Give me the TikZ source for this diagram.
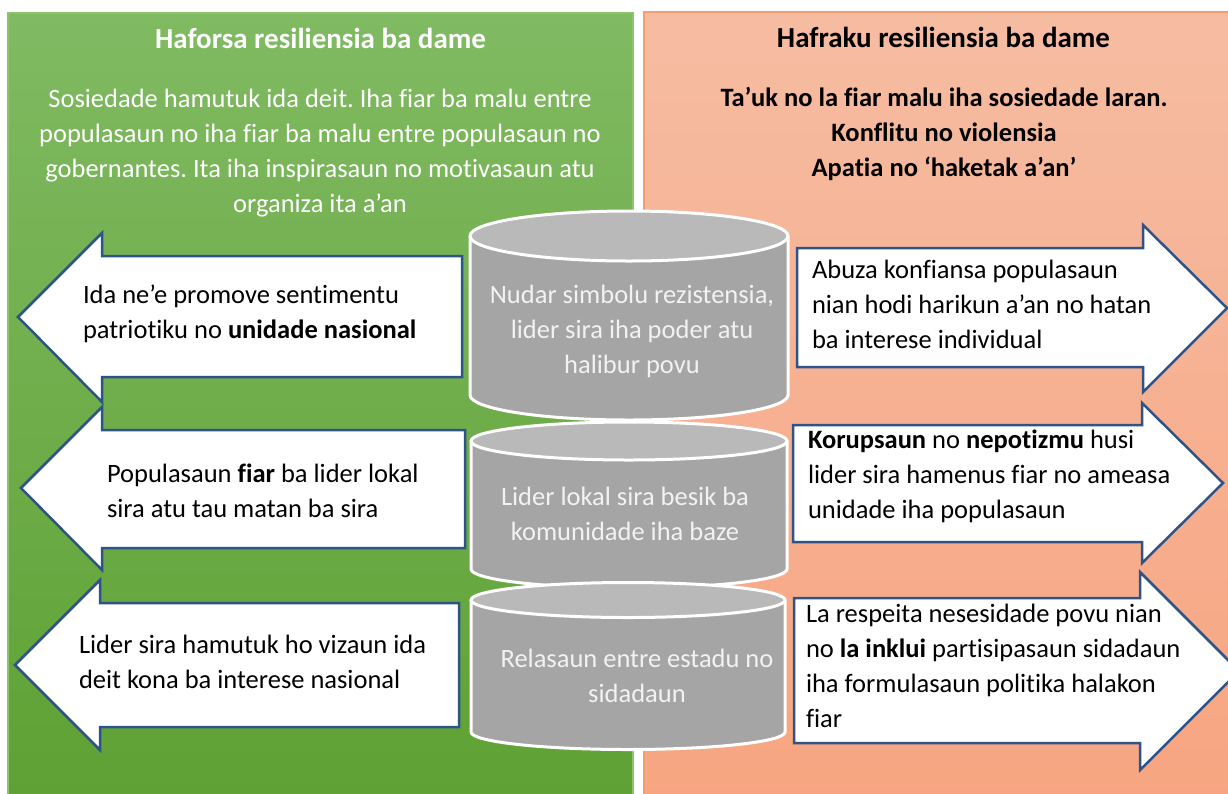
\documentclass[tikz,border=0pt]{standalone}
\usepackage{fontspec}
\setmainfont{Carlito}[Ligatures={TeX,NoCommon}]
\frenchspacing
\definecolor{greentop}{RGB}{128,186,98}
\definecolor{greenbot}{RGB}{95,161,52}
\definecolor{greenedge}{RGB}{140,195,110}
\definecolor{orangetop}{RGB}{246,188,162}
\definecolor{orangebot}{RGB}{247,165,129}
\definecolor{orangeedge}{RGB}{243,158,112}
\definecolor{arrowblue}{RGB}{46,84,135}
\definecolor{cylbody}{RGB}{165,165,165}
\definecolor{cyltop}{RGB}{185,185,185}
\definecolor{cyltext}{RGB}{242,242,242}
\newcommand\drawcyl[5]{%
  \fill[cylbody] (#1-#2,#3) -- (#1-#2,#4) arc[start angle=180,end angle=0,x radius=#2,y radius=#5] -- (#1+#2,#3) -- cycle;
  \fill[cyltop] (#1,#3) ellipse[x radius=#2,y radius=#5];
  \draw[cyledge] (#1-#2,#3) -- (#1-#2,#4) arc[start angle=180,end angle=0,x radius=#2,y radius=#5] -- (#1+#2,#3);
  \draw[cyledge] (#1,#3) ellipse[x radius=#2,y radius=#5];
}
\begin{document}
\begin{tikzpicture}[x=1pt,y=-1pt,
  bodytext/.style={font=\fontsize{26.5}{35}\selectfont, inner sep=0pt, outer sep=0pt},
  titletext/.style={font=\fontsize{29}{35}\selectfont\bfseries, inner sep=0pt, outer sep=0pt},
  arrowbox/.style={fill=white, draw=arrowblue, line width=2.5pt, line join=miter},
  cyledge/.style={draw=white, line width=3pt},
  leftblock/.style={bodytext, anchor=base west, align=left},
  centerblock/.style={bodytext, anchor=base, align=center}]
\useasboundingbox (0,0) rectangle (1228,793);
\clip (0,0) rectangle (1228,793);
\fill[white] (0,0) rectangle (1228,793);
% panels
\shade[top color=greentop, bottom color=greenbot] (8,13) rectangle (633,800);
\draw[greenedge, line width=1.2pt] (8,800) -- (8,13) -- (633,13) -- (633,800);
\shade[top color=orangetop, bottom color=orangebot] (644,12) rectangle (1240,800);
\draw[orangeedge, line width=1.5pt] (644,800) -- (644,12) -- (1240,12);
% titles
\node[titletext, text=white, anchor=base] (ttlL) at (320.5,48) {Haforsa resiliensia ba dame};
\node[titletext, text=black, anchor=base] (ttlR) at (943.5,47) {Hafraku resiliensia ba dame};
% paragraphs (anchor = baseline of the last line)
\node[centerblock, text=white] (parL) at (320,212) {Sosiedade hamutuk ida deit. Iha fiar ba malu entre\\populasaun no iha fiar ba malu entre populasaun no\\gobernantes. Ita iha inspirasaun no motivasaun atu\\organiza ita a’an};
\node[centerblock, text=black, font=\fontsize{26.5}{35}\selectfont\bfseries] (parR) at (944,176) {Ta’uk no la fiar malu iha sosiedade laran.\\Konflitu no violensia\\Apatia no ‘haketak a’an’};
% left arrows
\draw[arrowbox] (18,317) -- (102,233) -- (102,256) -- (462,256) -- (462,377) -- (102,377) -- (102,402) -- cycle;
\draw[arrowbox] (21,488) -- (102,407) -- (102,430) -- (465,430) -- (465,548) -- (102,548) -- (102,570) -- cycle;
\draw[arrowbox] (15,665) -- (100,580) -- (100,603) -- (459,603) -- (459,727) -- (100,727) -- (100,750) -- cycle;
% right arrows
\draw[arrowbox] (797,248) -- (1143,248) -- (1143,225) -- (1227,308) -- (1143,392) -- (1143,367) -- (797,367) -- cycle;
\draw[arrowbox] (793,425) -- (1142,425) -- (1142,403) -- (1223,483) -- (1142,563) -- (1142,542) -- (793,542) -- cycle;
\draw[arrowbox] (794,598) -- (1140,598) -- (1140,572) -- (1239,671) -- (1140,770) -- (1140,743) -- (794,743) -- cycle;
% arrow texts
\node[leftblock] (l1) at (83,338) {Ida ne’e promove sentimentu\\patriotiku no \textbf{unidade nasional}};
\node[leftblock] (l2) at (107,517) {Populasaun \textbf{fiar} ba lider lokal\\sira atu tau matan ba sira};
\node[leftblock] (l3) at (79,688) {Lider sira hamutuk ho vizaun ida\\deit kona ba interese nasional};
\node[leftblock] (r1) at (812,348) {Abuza konfiansa populasaun\\nian hodi harikun a’an no hatan\\ba interese individual};
\node[leftblock] (r2) at (808,518) {\textbf{Korupsaun} no \textbf{nepotizmu} husi\\lider sira hamenus fiar no ameasa\\unidade iha populasaun};
\node[leftblock] (r3) at (806,727) {La respeita nesesidade povu nian\\no \textbf{la inklui} partisipasaun sidadaun\\iha formulasaun politika halakon\\fiar};
% cylinders
\drawcyl{629}{159}{236}{395}{25}
\drawcyl{629}{158}{441}{569}{19}
\drawcyl{628}{157}{600}{732}{17.5}
\node[centerblock, text=cyltext] (c1) at (632,373) {Nudar simbolu rezistensia,\\lider sira iha poder atu\\halibur povu};
\node[centerblock, text=cyltext] (c2) at (625,540) {Lider lokal sira besik ba\\komunidade iha baze};
\node[centerblock, text=cyltext] (c3) at (637,702) {Relasaun entre estadu no\\sidadaun};
\end{tikzpicture}
\end{document}
